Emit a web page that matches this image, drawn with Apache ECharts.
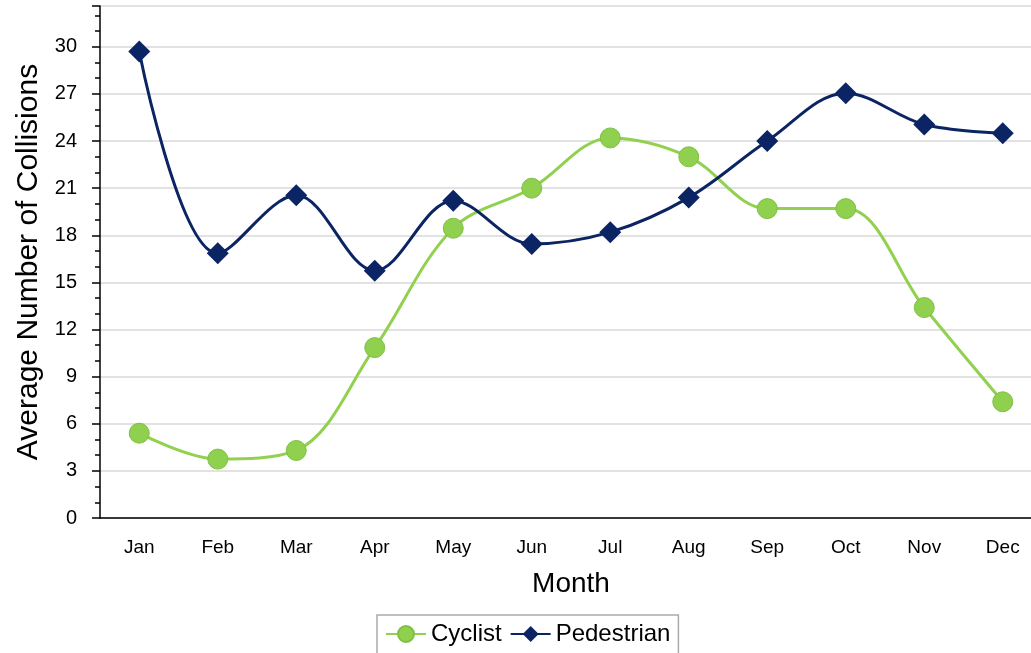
<!DOCTYPE html>
<html>
<head>
<meta charset="utf-8">
<script src="https://cdn.jsdelivr.net/npm/echarts@6/dist/echarts.min.js"></script>
<style>
  html, body { margin: 0; padding: 0; background: #fff; }
  #chart { width: 1031px; height: 653px; }
</style>
</head>
<body>
<div id="chart"></div>
<script>
var months = ['Jan', 'Feb', 'Mar', 'Apr', 'May', 'Jun', 'Jul', 'Aug', 'Sep', 'Oct', 'Nov', 'Dec'];
var cyclist = [5.4, 3.75, 4.3, 10.85, 18.45, 21.0, 24.2, 23.0, 19.7, 19.7, 13.4, 7.4];
var pedestrian = [29.7, 16.85, 20.55, 15.75, 20.2, 17.45, 18.2, 20.4, 24.0, 27.05, 25.05, 24.5];

var myChart = echarts.init(document.getElementById('chart'));

var option = {
  animation: false,
  textStyle: { fontFamily: 'Liberation Sans, Arial, sans-serif', color: '#000' },
  grid: { left: 100, top: 6, width: 942, height: 512, containLabel: false, outerBoundsMode: 'none' },
  legend: {
    left: 377,
    top: 615,
    padding: [7, 8, 12, 8],
    itemGap: 8,
    itemWidth: 40,
    itemHeight: 20,
    borderColor: '#aaaaaa',
    borderWidth: 1.5,
    textStyle: { fontSize: 24, color: '#000' },
    data: ['Cyclist', 'Pedestrian']
  },
  xAxis: {
    type: 'category',
    data: months,
    boundaryGap: true,
    name: 'Month',
    nameLocation: 'middle',
    nameGap: 52,
    nameTextStyle: { fontSize: 28, color: '#000' },
    axisLine: { lineStyle: { color: '#000', width: 1.5 } },
    axisTick: { alignWithLabel: true, length: 7, lineStyle: { color: '#000', width: 1.5 } },
    axisLabel: { fontSize: 19, color: '#000', margin: 20 },
    splitLine: { show: false }
  },
  yAxis: {
    type: 'value',
    min: 0,
    max: 32.6,
    interval: 3,
    name: 'Average Number of Collisions',
    nameLocation: 'middle',
    nameGap: 55,
    nameTextStyle: { fontSize: 30, color: '#000' },
    axisLine: { show: true, lineStyle: { color: '#000', width: 1.5 } },
    axisTick: { show: true, length: 8, lineStyle: { color: '#000', width: 1.5 } },
    minorTick: { show: true, splitNumber: 3, length: 5, lineStyle: { color: '#000', width: 1.5 } },
    axisLabel: { fontSize: 20, color: '#000', margin: 23, showMaxLabel: false },
    splitLine: { show: true, lineStyle: { color: '#d9d9d9', width: 1.5 } }
  },
  series: [
    {
      name: 'Cyclist',
      type: 'line',
      data: cyclist,
      smooth: 0.35,
      symbol: 'circle',
      symbolSize: 20,
      lineStyle: { color: '#92d050', width: 3 },
      itemStyle: { color: '#8fd04e', borderColor: '#7fbf44', borderWidth: 1 }
    },
    {
      name: 'Pedestrian',
      type: 'line',
      data: pedestrian,
      smooth: 0.35,
      symbol: 'diamond',
      symbolSize: 22,
      lineStyle: { color: '#0b2463', width: 3 },
      itemStyle: { color: '#0b2463' }
    }
  ]
};

myChart.setOption(option);
</script>
</body>
</html>
